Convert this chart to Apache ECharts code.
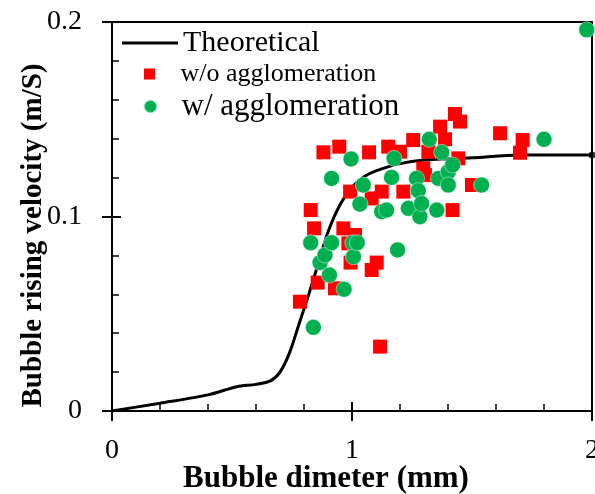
<!DOCTYPE html>
<html>
<head>
<meta charset="utf-8">
<script src="https://cdn.jsdelivr.net/npm/echarts@6/dist/echarts.min.js"></script>
<style>
  html, body { margin: 0; padding: 0; background: #fff; }
  #chart { width: 595px; height: 494px; }
</style>
</head>
<body>
<div id="chart"></div>
<script>
// data
const xTicks = [0, 1, 2];
const yTicks = [0, 0.1, 0.2];

const theoretical = [
  [0, 0], [0.2, 0.004], [0.4, 0.0083], [0.52, 0.0125], [0.6, 0.0137], [0.66, 0.0155],
  [0.7, 0.02], [0.74, 0.03], [0.78, 0.045], [0.82, 0.06], [0.86, 0.076], [0.9, 0.092],
  [0.95, 0.106], [1.0, 0.115], [1.05, 0.1205], [1.1, 0.1235], [1.2, 0.1272], [1.3, 0.129],
  [1.5, 0.1302], [1.7, 0.1316], [2.0, 0.1316]
];
const endDot = [[2.0, 0.1316]];

const woAgglomeration = [
  [0.783, 0.0562], [0.828, 0.1033], [0.842, 0.0939], [0.857, 0.066], [0.881, 0.133],
  [0.929, 0.0631], [0.947, 0.1359], [0.964, 0.0939], [0.985, 0.0862], [0.992, 0.1128],
  [0.994, 0.0763], [1.0125, 0.0905], [1.071, 0.133], [1.082, 0.1093], [1.082, 0.0725],
  [1.103, 0.0763], [1.117, 0.0331], [1.124, 0.1128], [1.151, 0.1359], [1.2, 0.1333],
  [1.214, 0.1128], [1.255, 0.1393], [1.297, 0.1247], [1.304, 0.1213], [1.318, 0.1333],
  [1.367, 0.1462], [1.3875, 0.1397], [1.419, 0.1033], [1.429, 0.1527], [1.443, 0.1299],
  [1.45, 0.1488], [1.5, 0.1162], [1.617, 0.1428], [1.70, 0.1328], [1.711, 0.1393]
];

const wAgglomeration = [
  [0.828, 0.0865], [0.839, 0.043], [0.867, 0.0763], [0.8875, 0.0802], [0.906, 0.0699],
  [0.915, 0.1196], [0.915, 0.0865], [0.967, 0.0626], [0.996, 0.1296], [1.003, 0.0865],
  [1.006, 0.0793], [1.022, 0.0865], [1.033, 0.1064], [1.047, 0.1162], [1.124, 0.1025],
  [1.144, 0.1033], [1.165, 0.1201], [1.175, 0.1299], [1.19, 0.0828], [1.235, 0.1042],
  [1.269, 0.1196], [1.276, 0.1133], [1.283, 0.0999], [1.29, 0.1067], [1.322, 0.1397],
  [1.353, 0.1033], [1.36, 0.1196], [1.374, 0.133], [1.401, 0.123], [1.401, 0.1162],
  [1.419, 0.1265], [1.54, 0.1162], [1.80, 0.1397], [1.978, 0.196]
];

const FONT = 'Liberation Serif';
const chart = echarts.init(document.getElementById('chart'));

const blank = { show: false };
const option = {
  animation: false,
  backgroundColor: '#fff',
  grid: { left: 112, right: 3, top: 22, bottom: 83, containLabel: false, outerBoundsMode: 'none' },
  legend: [
    {
      data: [{ name: 'Theoretical', icon: 'path://M0,0H56V3H0Z', itemStyle: { color: '#000' } }],
      left: 122, top: 28, padding: 0, selectedMode: false,
      itemWidth: 56, itemHeight: 14,
      textStyle: { fontFamily: FONT, fontSize: 30, lineHeight: 30, color: '#000' }
    },
    {
      data: [{ name: 'w/o agglomeration', icon: 'path://M0,0H10V10H0Z' }],
      left: 144, top: 61, padding: 0, selectedMode: false,
      itemWidth: 52, itemHeight: 11,
      textStyle: { fontFamily: FONT, fontSize: 26, lineHeight: 26, color: '#000' }
    },
    {
      data: [{ name: 'w/ agglomeration', icon: 'circle' }],
      left: 143, top: 91, padding: 0, selectedMode: false,
      itemWidth: 52, itemHeight: 13,
      textStyle: { fontFamily: FONT, fontSize: 31, lineHeight: 30, color: '#000' }
    }
  ],
  xAxis: [
    {
      type: 'value', position: 'bottom', min: xTicks[0], max: xTicks[xTicks.length - 1], interval: 1,
      name: 'Bubble dimeter (mm)', nameLocation: 'middle', nameGap: 52, nameMoveOverlap: false,
      nameTextStyle: { fontFamily: FONT, fontSize: 31, fontWeight: 'bold', color: '#000', padding: [0, 52, 0, 0] },
      axisLine: { onZero: false, lineStyle: { color: '#000', width: 2 } },
      axisTick: { inside: true, length: 9, lineStyle: { color: '#000', width: 2 } },
      minorTick: { show: true, splitNumber: 5, length: 7, lineStyle: { color: '#000', width: 1.5 } },
      axisLabel: { fontFamily: FONT, fontSize: 28, color: '#000', margin: 26 },
      splitLine: blank
    },
    {
      // outer half of the major ticks
      type: 'value', position: 'bottom', min: 0, max: 2, interval: 1,
      axisLine: { show: false, onZero: false },
      axisTick: { inside: false, length: 10, lineStyle: { color: '#000', width: 2 } },
      axisLabel: blank, splitLine: blank
    },
    {
      type: 'value', position: 'top', min: 0, max: 2, interval: 1,
      axisLine: { onZero: false, lineStyle: { color: '#000', width: 2 } },
      axisTick: blank, axisLabel: blank, splitLine: blank
    }
  ],
  yAxis: [
    {
      type: 'value', position: 'left', min: yTicks[0], max: yTicks[yTicks.length - 1], interval: 0.1,
      name: 'Bubble rising velocity (m/S)', nameLocation: 'middle', nameGap: 64, nameMoveOverlap: false,
      nameTextStyle: { fontFamily: FONT, fontSize: 29, fontWeight: 'bold', color: '#000', padding: [0, 38, 0, 0] },
      axisLine: { onZero: false, lineStyle: { color: '#000', width: 2 } },
      axisTick: { inside: true, length: 9, lineStyle: { color: '#000', width: 2 } },
      minorTick: { show: true, splitNumber: 5, length: 7, lineStyle: { color: '#000', width: 1.5 } },
      axisLabel: { fontFamily: FONT, fontSize: 28, color: '#000', margin: 30 },
      splitLine: blank
    },
    {
      type: 'value', position: 'left', min: 0, max: 0.2, interval: 0.1,
      axisLine: { show: false, onZero: false },
      axisTick: { inside: false, length: 10, lineStyle: { color: '#000', width: 2 } },
      axisLabel: blank, splitLine: blank
    },
    {
      type: 'value', position: 'right', min: 0, max: 0.2, interval: 0.1,
      axisLine: { onZero: false, lineStyle: { color: '#000', width: 2 } },
      axisTick: blank, axisLabel: blank, splitLine: blank
    }
  ],
  series: [
    {
      name: 'Theoretical', type: 'line', data: theoretical, smooth: 0.3,
      showSymbol: false, symbol: 'none',
      lineStyle: { color: '#000', width: 3 }, itemStyle: { color: '#000' }, z: 2
    },
    {
      name: 'end', type: 'scatter', data: endDot, symbol: 'circle', symbolSize: 7,
      itemStyle: { color: '#000' }, z: 2, silent: true
    },
    {
      name: 'w/o agglomeration', type: 'scatter', data: woAgglomeration,
      symbol: 'rect', symbolSize: 14,
      itemStyle: { color: '#ff0000', opacity: 1 }, z: 3
    },
    {
      name: 'w/ agglomeration', type: 'scatter', data: wAgglomeration,
      symbol: 'circle', symbolSize: 16,
      itemStyle: { color: '#00b050', opacity: 1, borderColor: 'rgba(255,255,255,0.45)', borderWidth: 1 }, z: 4
    }
  ]
};

chart.setOption(option);
</script>
</body>
</html>
